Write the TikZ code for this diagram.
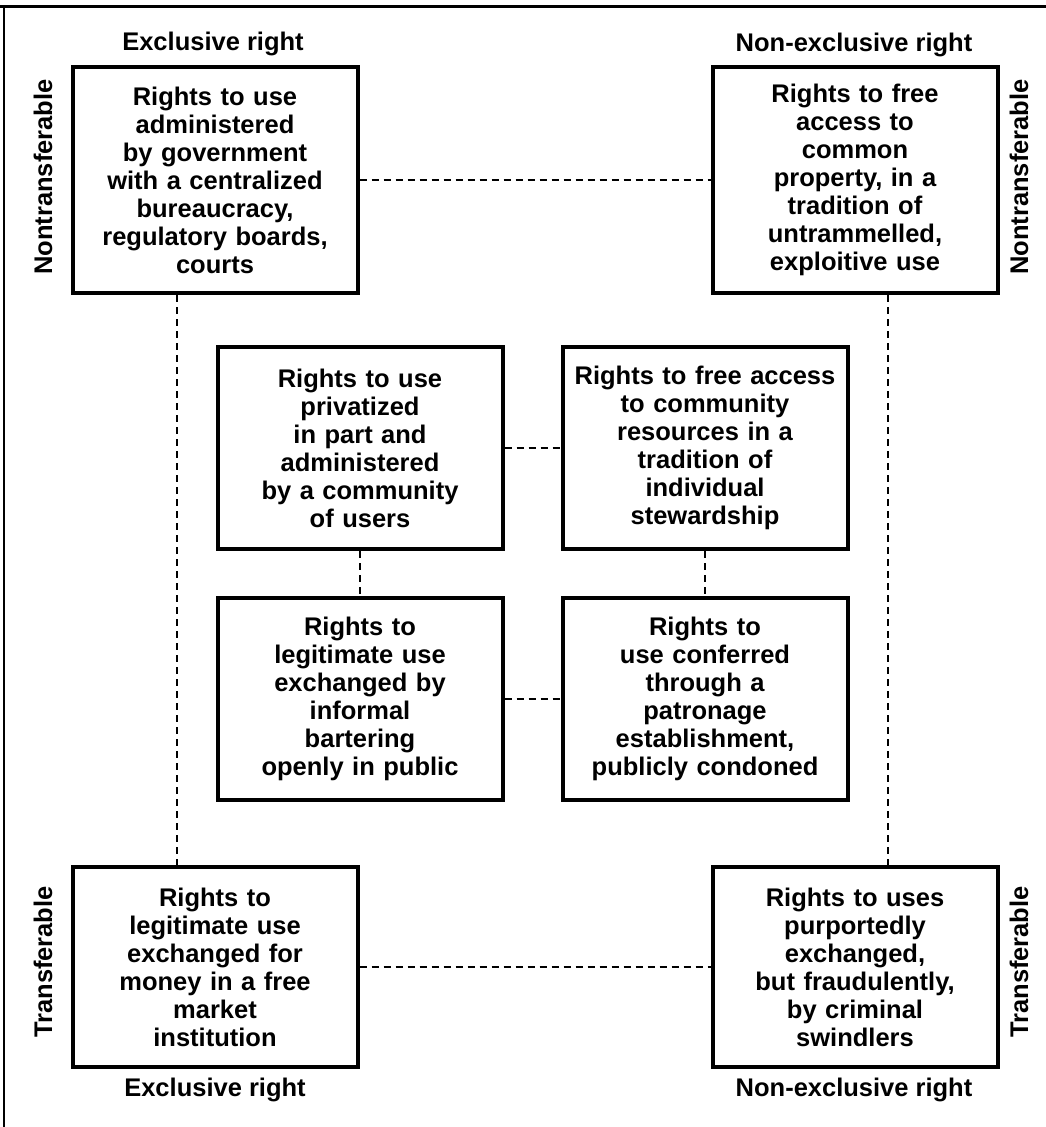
\documentclass[tikz,border=0pt]{standalone}
\usepackage{fontspec}
\setmainfont{Liberation Sans}

\begin{document}
\begin{tikzpicture}
    [x=1pt, y=-1pt,
     block/.style={rectangle, draw, line width=4pt, text width=285pt, inner sep=0pt,
                   align=center, font=\bfseries\fontsize{25.5}{28}\selectfont},
     heading/.style={font=\bfseries\fontsize{25.5}{28}\selectfont},
     sidetext/.style={heading, rotate=90},
     link/.style={dash pattern=on 7pt off 5pt, line width=1.3pt}]
    \useasboundingbox (0,0) rectangle (1046,1127);
    \draw[line width=3pt] (0,6) -- (1046,6);
    \draw[line width=2pt] (4,6) -- (4,1127);

    % outer corners
    \node[block, minimum height=226pt] (tl) at (215,180) {Rights to use\\ administered\\ by government\\ with a centralized\\ bureaucracy,\\ regulatory boards,\\ courts};
    \node[block, minimum height=226pt] (tr) at (855,180) {Rights to free\\ access to\\ common\\ property, in a\\ tradition of\\ untrammelled,\\ exploitive use};
    \node[block, minimum height=200pt] (bl) at (215,967) {Rights to\\ legitimate use\\ exchanged for\\ money in a free\\ market\\ institution};
    \node[block, minimum height=200pt] (br) at (855,967) {Rights to uses\\ purportedly\\ exchanged,\\ but fraudulently,\\ by criminal\\ swindlers};

    % inner square
    \node[block, minimum height=202pt] (mtl) at (360,448) {Rights to use\\ privatized\\ in part and\\ administered\\ by a community\\ of users};
    \node[block, minimum height=202pt] (mtr) at (705,448) {Rights to free access\\ to community\\ resources in a\\ tradition of\\ individual\\ stewardship};
    \node[block, minimum height=202pt] (mbl) at (360,699) {Rights to\\ legitimate use\\ exchanged by\\ informal\\ bartering\\ openly in public};
    \node[block, minimum height=202pt] (mbr) at (705,699) {Rights to\\ use conferred\\ through a\\ patronage\\ establishment,\\ publicly condoned};

    % axis labels
    \node[heading] (extop) at (213,44) {Exclusive right};
    \node[heading] (netop) at (854,45) {Non-exclusive right};
    \node[heading] (exbot) at (215,1090) {Exclusive right};
    \node[heading] (nebot) at (854,1090) {Non-exclusive right};
    \node[sidetext] (ntl) at (43,177) {Nontransferable};
    \node[sidetext] (ntr) at (1019,177) {Nontransferable};
    \node[sidetext] (trl) at (43,962) {Transferable};
    \node[sidetext] (trr) at (1019,962) {Transferable};

    % dashed links
    \draw[link] (tl) -- (tr);
    \draw[link] (bl) -- (br);
    \draw[link] ([xshift=-38pt]tl.south) -- ([xshift=-38pt]bl.north);
    \draw[link] ([xshift=33pt]tr.south) -- ([xshift=33pt]br.north);
    \draw[link] (mtl) -- (mtr);
    \draw[link] (mbl) -- (mbr);
    \draw[link] (mtl) -- (mbl);
    \draw[link] (mtr) -- (mbr);
\end{tikzpicture}
\end{document}
